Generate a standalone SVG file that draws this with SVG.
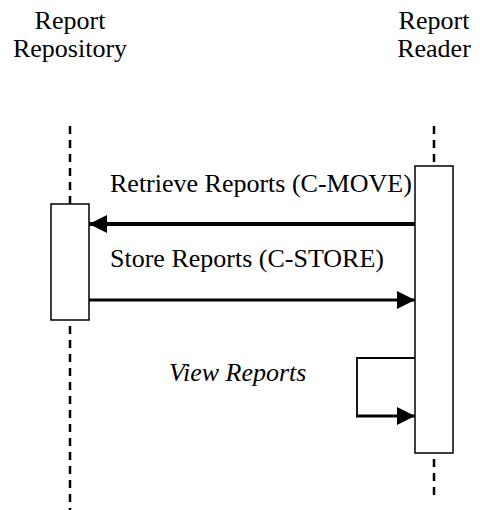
<svg xmlns="http://www.w3.org/2000/svg" width="480" height="510" viewBox="0 0 480 510">
<style>
text{font-family:"Liberation Serif","Times New Roman",serif;font-size:26px;fill:#000}
.life{stroke:#000;stroke-width:2.5;stroke-dasharray:8,6;fill:none}
.act{fill:#fff;stroke:#000;stroke-width:1.5}
.msg{stroke:#000;fill:none}
</style>
<defs>
<marker id="ah" markerUnits="userSpaceOnUse" markerWidth="18" markerHeight="18" viewBox="0 0 17 17" refX="17" refY="8.5" orient="auto">
<path d="M0,0 L17,8.5 L0,17 Z" fill="#000"/>
</marker>
</defs>
<g id="repository">
<text x="70" y="29" text-anchor="middle">Report</text>
<text x="70" y="57" text-anchor="middle">Repository</text>
<line class="life" x1="70" y1="126" x2="70" y2="204"/>
<line class="life" x1="70" y1="326" x2="70" y2="510"/>
<rect class="act" x="51" y="204" width="38" height="116"/>
</g>
<g id="reader">
<text x="434" y="29" text-anchor="middle">Report</text>
<text x="434" y="57" text-anchor="middle">Reader</text>
<line class="life" x1="434" y1="126" x2="434" y2="166"/>
<line class="life" x1="434" y1="459" x2="434" y2="500"/>
<rect class="act" x="415" y="166" width="38" height="287"/>
</g>
<g id="connectors">
<line class="msg" x1="415" y1="224" x2="89" y2="224" stroke-width="4" marker-end="url(#ah)"/>
<text x="110" y="192">Retrieve Reports (C-MOVE)</text>
<line class="msg" x1="89" y1="300" x2="415" y2="300" stroke-width="3" marker-end="url(#ah)"/>
<text x="110" y="267">Store Reports (C-STORE)</text>
<polyline class="msg" points="415,358 357,358 357,416" stroke-width="1.8"/>
<line class="msg" x1="356" y1="416" x2="415" y2="416" stroke-width="3" marker-end="url(#ah)"/>
<text x="169" y="381" font-style="italic">View Reports</text>
</g>
</svg>
